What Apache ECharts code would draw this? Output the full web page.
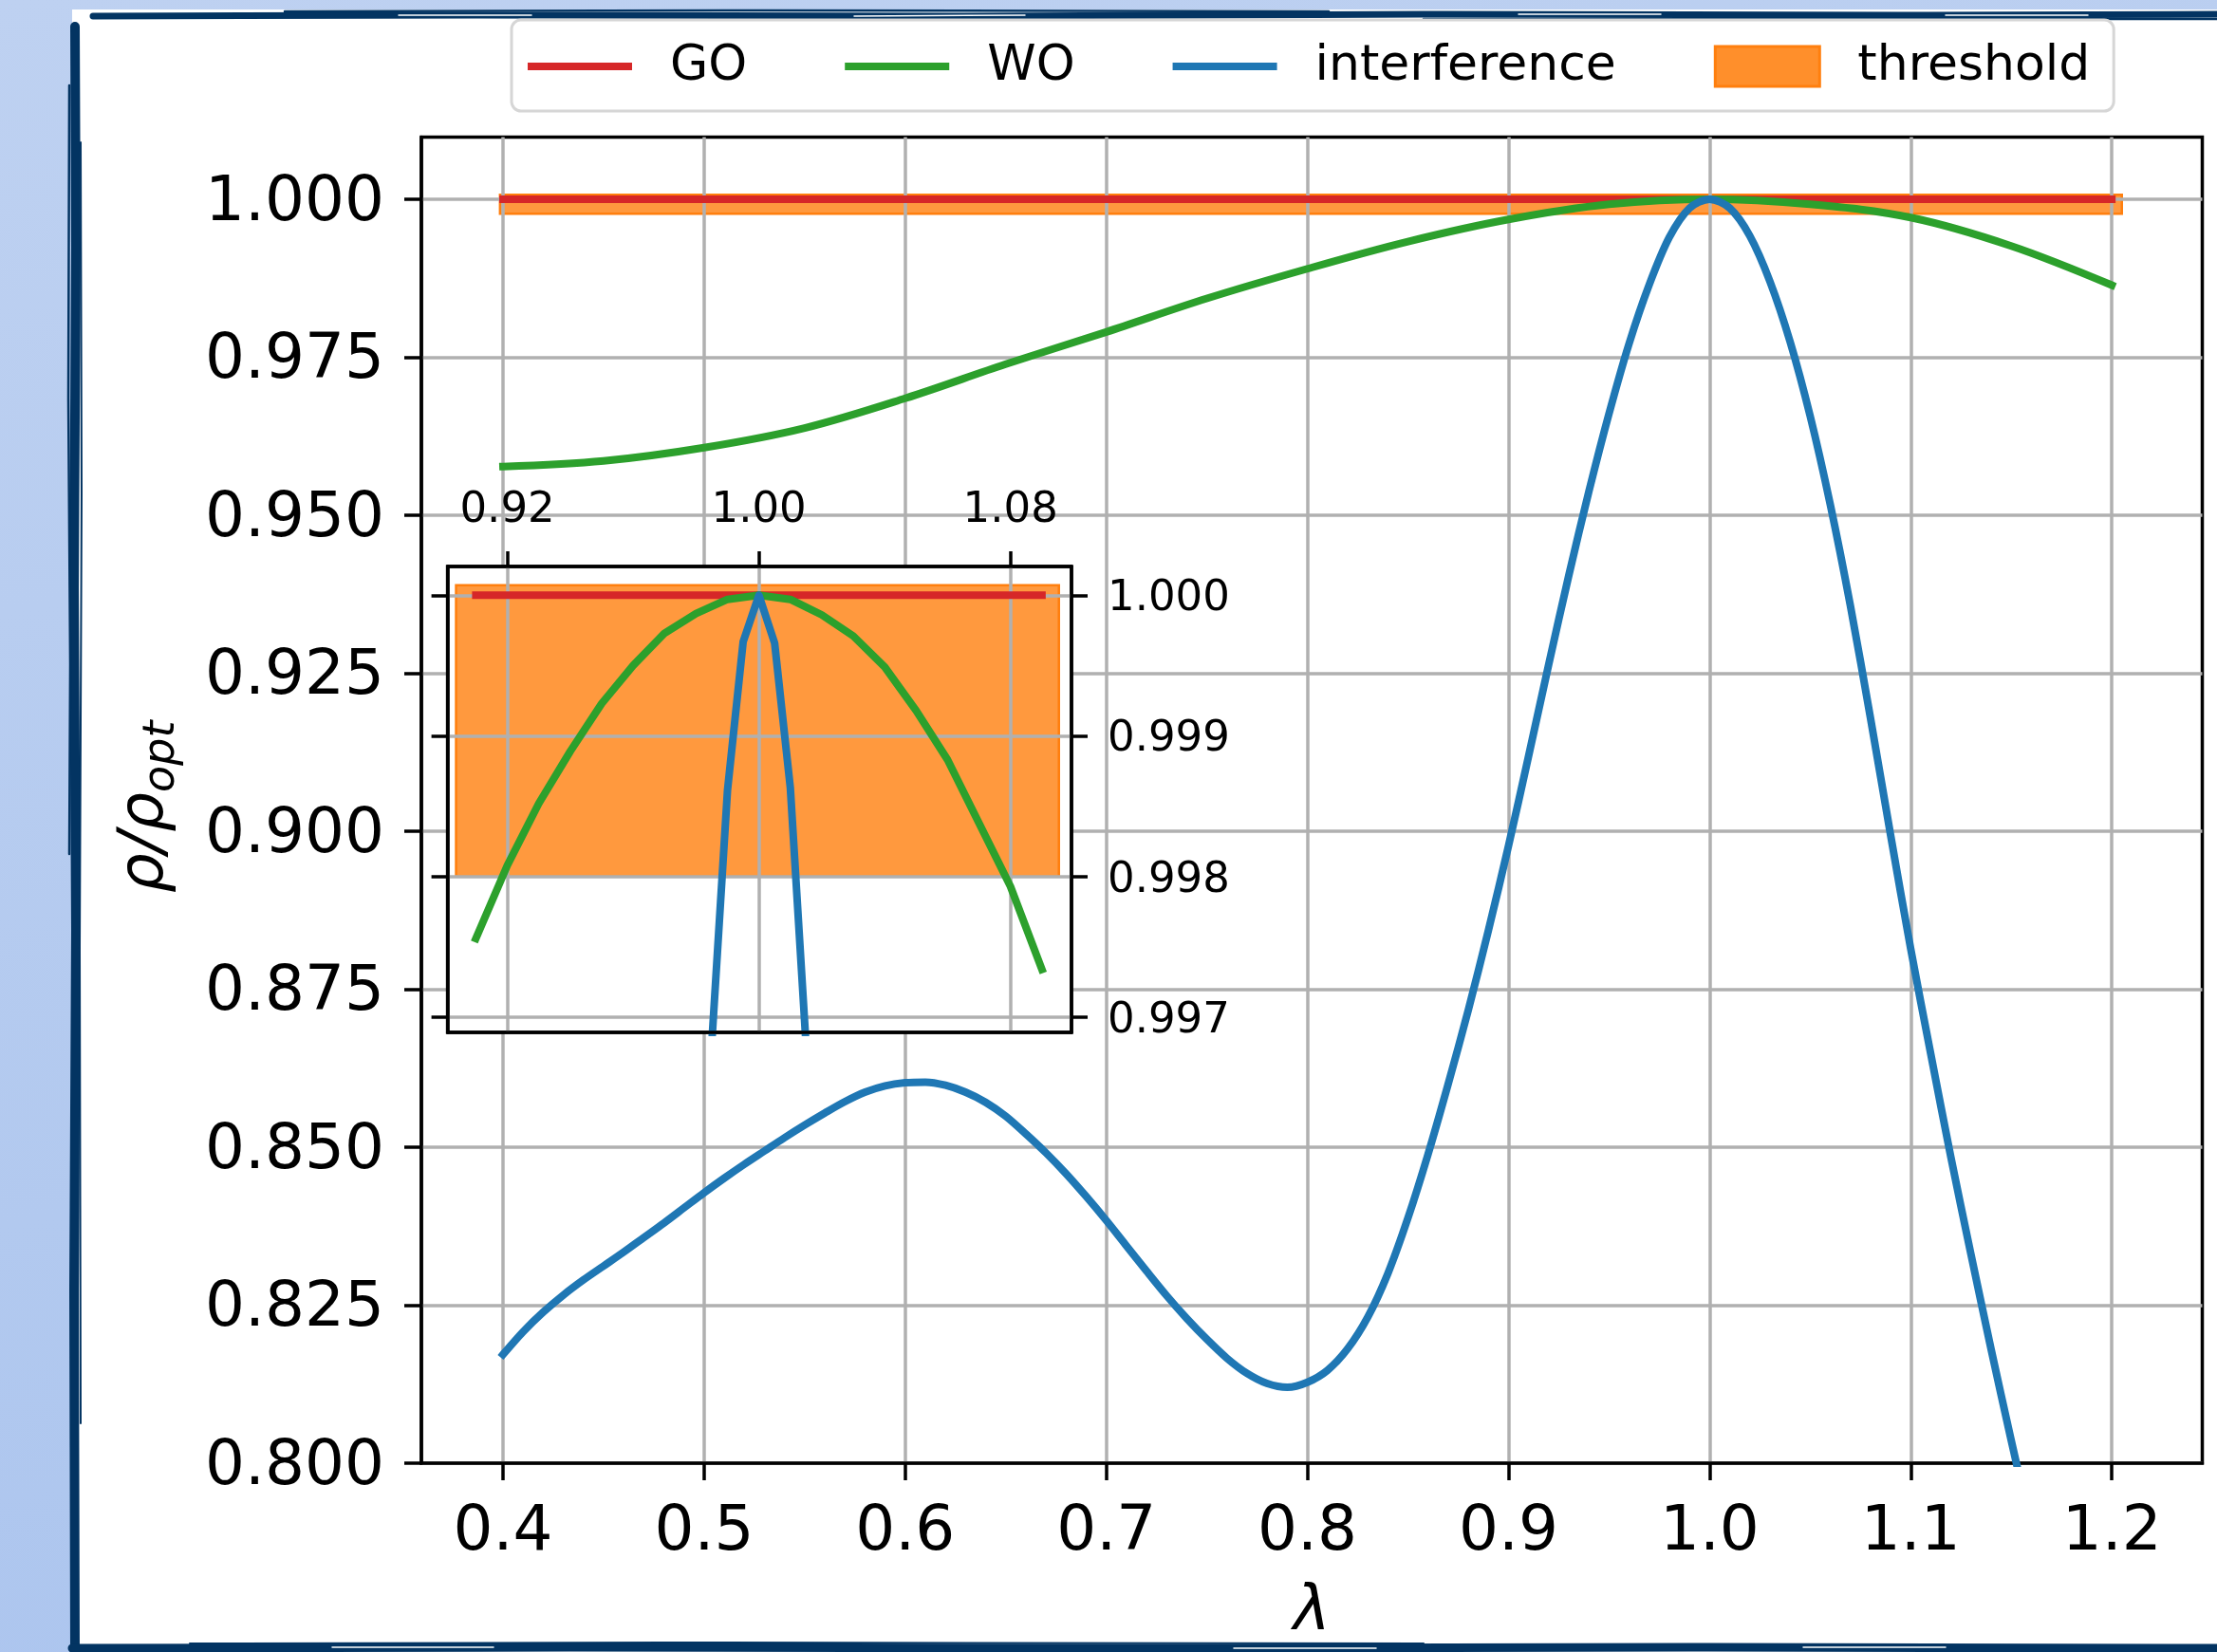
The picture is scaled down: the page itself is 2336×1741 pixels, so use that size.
<!DOCTYPE html>
<html><head><meta charset="utf-8">
<script src="https://cdn.jsdelivr.net/npm/echarts@6/dist/echarts.min.js"></script>
<style>
html,body{margin:0;padding:0;width:2336px;height:1741px;overflow:hidden;background:linear-gradient(170deg,#bed1f1 0%,#b2c9ef 60%,#a9c3ee 100%);}
#deco{position:absolute;left:0;top:0;}
#chart{position:absolute;left:0;top:0;width:2336px;height:1741px;}
</style></head><body>
<svg id="deco" width="2336" height="1741" xmlns="http://www.w3.org/2000/svg">
<rect x="76" y="10" width="2260" height="1731" fill="#ffffff"/>
<g fill="none" stroke="#033462" stroke-linecap="round">
<path d="M79,28 L80,260 L78,620 L80,980 L78,1360 L79,1741" stroke-width="10"/>
<path d="M73,90 L72,420 L74,700 L73,900" stroke-width="2.5"/>
<path d="M85,150 L86,520 L84,1000 L85,1500" stroke-width="2"/>
<path d="M98,17 L500,16 L1000,17 L1500,15 L2000,16 L2336,15" stroke-width="7"/>
<path d="M300,12 L800,11 L1400,12" stroke-width="2.5"/>
<path d="M1500,20 L2336,20" stroke-width="2.5"/>
<path d="M76,1737 L600,1736 L1200,1737 L1800,1736 L2336,1737" stroke-width="9"/>
<path d="M200,1732 L700,1731 L1500,1732" stroke-width="2"/>
</g>
<g fill="none" stroke="#ffffff" stroke-linecap="round" stroke-width="1.5">
<path d="M420,16 L560,16"/><path d="M900,17 L1080,16"/><path d="M1600,15 L1750,15"/><path d="M2050,16 L2200,16"/>
<path d="M350,1736 L520,1736"/><path d="M1300,1737 L1450,1737"/><path d="M1900,1736 L2050,1736"/>
</g>
</svg>
<div id="chart"></div>
<script>
// ---- data ----
const xTicksMain = [0.4, 0.5, 0.6, 0.7, 0.8, 0.9, 1.0, 1.1, 1.2];
const yTicksMain = [0.800, 0.825, 0.850, 0.875, 0.900, 0.925, 0.950, 0.975, 1.000];
const xTicksInset = [0.92, 1.00, 1.08];
const yTicksInset = [0.997, 0.998, 0.999, 1.000];

const goLambda = [0.40, 1.20];
const goRho = [1.000, 1.000];

const woLambda = [0.40,0.45,0.50,0.55,0.60,0.65,0.70,0.75,0.80,0.85,0.90,0.95,1.00,1.05,1.10,1.15,1.20];
const woRho = [0.9577,0.9586,0.9607,0.9638,0.9685,0.9739,0.9790,0.9843,0.9890,0.9933,0.9968,0.9992,1.0000,0.9992,0.9971,0.9926,0.9864];

const intLambda = [
  0.40,0.41,0.42,0.43,0.44,0.45,0.46,0.47,0.48,0.49,
  0.50,0.51,0.52,0.53,0.54,0.55,0.56,0.57,0.58,0.59,
  0.60,0.61,0.62,0.63,0.64,0.65,0.66,0.67,0.68,0.69,
  0.70,0.71,0.72,0.73,0.74,0.75,0.76,0.77,0.78,0.79,
  0.80,0.81,0.82,0.83,0.84,0.85,0.86,0.87,0.88,0.89,
  0.90,0.91,0.92,0.93,0.94,0.95,0.96,0.97,0.98,0.99,
  1.00,1.01,1.02,1.03,1.04,1.05,1.06,1.07,1.08,1.09,
  1.10,1.11,1.12,1.13,1.14,1.15,1.16];
const intRho = [
  0.8172,0.8208,0.8239,0.8266,0.8290,0.8312,0.8334,0.8357,0.8380,0.8404,
  0.8428,0.8451,0.8473,0.8494,0.8515,0.8535,0.8554,0.8572,0.8587,0.8597,
  0.8602,0.8603,0.8598,0.8587,0.8571,0.8549,0.8521,0.8491,0.8458,0.8422,
  0.8384,0.8344,0.8304,0.8265,0.8229,0.8196,0.8166,0.8142,0.8126,0.8120,
  0.8128,0.8147,0.8181,0.8231,0.8300,0.8388,0.8489,0.8600,0.8717,0.8843,
  0.8977,0.9119,0.9264,0.9405,0.9538,0.9661,0.9772,0.9865,0.9940,0.9986,
  1.0000,0.9986,0.9942,0.9870,0.9775,0.9657,0.9517,0.9357,0.9179,0.8994,
  0.8814,0.8647,0.8484,0.8330,0.8180,0.8036,0.7896];

const thrLambda = [0.3985, 1.2050];
const thrRho = [0.9977, 1.0007];

const insetLambda = [0.91,0.92,0.93,0.94,0.95,0.96,0.97,0.98,0.99,1.00,1.01,1.02,1.03,1.04,1.05,1.06,1.07,1.08,1.09];
const insetGoRho = [1,1,1,1,1,1,1,1,1,1,1,1,1,1,1,1,1,1,1];
const insetWoRho = [0.99756,0.99808,0.99852,0.99889,0.99923,0.99950,0.99973,0.99987,0.99997,1.00000,0.99997,0.99986,0.99971,0.99949,0.99918,0.99883,0.99838,0.99793,0.99734];
const insetIntLambda = [0.985, 0.990, 0.995, 1.000, 1.005, 1.010, 1.015];
const insetIntRho = [0.99681, 0.99861, 0.99967, 1.00000, 0.99966, 0.99863, 0.99680];
const insetThrLambda = [0.9037, 1.0954];
const insetThrRho = [0.99800, 1.00007];

// ---- helpers ----
const pairs = (xs, ys) => xs.map((x, i) => [x, ys[i]]);
const FONT = 'DejaVu Sans';
const RED = '#d62728', GREEN = '#2ca02c', BLUE = '#1f77b4', ORANGE = '#ff7f0e';
const ORANGE_FILL = 'rgba(255,127,14,0.8)';
const GRIDC = '#b0b0b0';
const LW = 8;

function rectItem(params, api) {
  const p0 = api.coord([api.value(0), api.value(3)]);
  const p1 = api.coord([api.value(1), api.value(2)]);
  return {
    type: 'rect',
    shape: { x: p0[0], y: p0[1], width: p1[0] - p0[0], height: p1[1] - p0[1] },
    style: { fill: ORANGE_FILL, stroke: ORANGE, lineWidth: 2.5 }
  };
}

const lineIcon = 'path://M0,0h0.001v0.001h-0.001z M0,17h110v8h-110z M0,41.999h0.001v0.001h-0.001z';

const chart = echarts.init(document.getElementById('chart'), null, { renderer: 'canvas' });

const axisLineBlack = { show: true, onZero: false, lineStyle: { color: '#000', width: 3.5 } };

const option = {
  animation: false,
  backgroundColor: 'transparent',
  textStyle: { fontFamily: FONT, color: '#000' },
  legend: {
    left: 539, top: 21,
    orient: 'horizontal',
    padding: [23, 25, 21, 17],
    itemWidth: 110, itemHeight: 42, itemGap: 103,
    backgroundColor: '#ffffff',
    borderColor: '#d6d6d6', borderWidth: 3, borderRadius: 10,
    z: 6,
    selectedMode: false,
    itemStyle: { borderWidth: 0 },
    textStyle: { fontFamily: FONT, fontSize: 52, color: '#000', padding: [0, 0, 0, 35] },
    data: [
      { name: 'GO', icon: lineIcon, itemStyle: { color: RED, borderWidth: 0 } },
      { name: 'WO', icon: lineIcon, itemStyle: { color: GREEN, borderWidth: 0 } },
      { name: 'interference', icon: lineIcon, itemStyle: { color: BLUE, borderWidth: 0 } },
      { name: 'threshold', icon: 'rect', itemStyle: { color: 'rgba(255,127,14,0.88)', borderColor: ORANGE, borderWidth: 3 } }
    ]
  },
  grid: [
    { left: 444, top: 144.5, width: 1876.5, height: 1397.5, show: true, borderColor: '#000', borderWidth: 3.5, backgroundColor: 'transparent', z: 0, outerBoundsMode: 'none', containLabel: false },
    { left: 471.6, top: 597, width: 657.4, height: 491, show: true, borderColor: '#000', borderWidth: 3.5, backgroundColor: '#ffffff', z: 3, outerBoundsMode: 'none', containLabel: false }
  ],
  xAxis: [
    {
      type: 'value', gridIndex: 0, position: 'bottom', min: 0.3594, max: 1.245, z: 1,
      axisLine: axisLineBlack,
      axisTick: { show: true, inside: false, length: 18, lineStyle: { color: '#000', width: 3.5 }, customValues: xTicksMain },
      axisLabel: { show: true, margin: 41, fontSize: 66, fontFamily: FONT, color: '#000', customValues: xTicksMain, formatter: v => v.toFixed(1) },
      splitLine: { show: true, lineStyle: { color: GRIDC, width: 3.5 }, customValues: xTicksMain },
      name: 'λ', nameLocation: 'middle', nameGap: 125,
      nameTextStyle: { fontSize: 66, fontStyle: 'italic', fontFamily: FONT, color: '#000' }
    },
    {
      type: 'value', gridIndex: 1, position: 'top', min: 0.901, max: 1.0994, z: 4,
      axisLine: axisLineBlack,
      axisTick: { show: true, inside: false, length: 16, lineStyle: { color: '#000', width: 3.5 }, customValues: xTicksInset },
      axisLabel: { show: true, margin: 36, fontSize: 45, fontFamily: FONT, color: '#000', customValues: xTicksInset, formatter: v => v.toFixed(2) },
      splitLine: { show: true, lineStyle: { color: GRIDC, width: 3.5 }, customValues: xTicksInset }
    },
    {
      type: 'value', gridIndex: 1, position: 'bottom', min: 0.901, max: 1.0994, z: 6,
      axisLine: axisLineBlack,
      axisTick: { show: false }, axisLabel: { show: false }, splitLine: { show: false }
    }
  ],
  yAxis: [
    {
      type: 'value', gridIndex: 0, position: 'left', min: 0.8, max: 1.00983, z: 1,
      axisLine: axisLineBlack,
      axisTick: { show: true, inside: false, length: 18, lineStyle: { color: '#000', width: 3.5 }, customValues: yTicksMain },
      axisLabel: { show: true, margin: 39, fontSize: 66, fontFamily: FONT, color: '#000', verticalAlign: 'top', lineHeight: 9, customValues: yTicksMain, formatter: v => v.toFixed(3) },
      splitLine: { show: true, lineStyle: { color: GRIDC, width: 3.5 }, customValues: yTicksMain },
      name: '{a|ρ/ρ}{b|opt}', nameLocation: 'middle', nameGap: 250, nameRotate: 90,
      nameTextStyle: {
        padding: [0, 14, 0, 0],
        rich: {
          a: { fontSize: 66, fontStyle: 'italic', fontFamily: FONT, color: '#000', lineHeight: 80, verticalAlign: 'middle' },
          b: { fontSize: 46, fontStyle: 'italic', fontFamily: FONT, color: '#000', lineHeight: 46, verticalAlign: 'bottom' }
        }
      }
    },
    {
      type: 'value', gridIndex: 1, position: 'right', min: 0.996893, max: 1.000204, z: 4,
      axisLine: axisLineBlack,
      axisTick: { show: true, inside: false, length: 17, lineStyle: { color: '#000', width: 3.5 }, customValues: yTicksInset },
      axisLabel: { show: true, margin: 38, fontSize: 45, fontFamily: FONT, color: '#000', verticalAlign: 'top', lineHeight: 8, customValues: yTicksInset, formatter: v => v.toFixed(3) },
      splitLine: { show: true, lineStyle: { color: GRIDC, width: 3.5 }, customValues: yTicksInset }
    },
    {
      type: 'value', gridIndex: 1, position: 'left', min: 0.996893, max: 1.000204, z: 4,
      axisLine: axisLineBlack,
      axisTick: { show: true, inside: false, length: 17, lineStyle: { color: '#000', width: 3.5 }, customValues: yTicksInset },
      axisLabel: { show: false },
      splitLine: { show: false }
    }
  ],
  series: [
    {
      name: 'threshold', type: 'custom', xAxisIndex: 0, yAxisIndex: 0, z: 0.5,
      itemStyle: { color: ORANGE },
      renderItem: rectItem,
      encode: { x: [0, 1], y: [2, 3] },
      data: [[thrLambda[0], thrLambda[1], thrRho[0], thrRho[1]]]
    },
    {
      name: 'GO', type: 'line', xAxisIndex: 0, yAxisIndex: 0, z: 2, symbol: 'none',
      itemStyle: { color: RED }, lineStyle: { color: RED, width: LW, cap: 'square' },
      data: pairs(goLambda, goRho)
    },
    {
      name: 'WO', type: 'line', xAxisIndex: 0, yAxisIndex: 0, z: 2, symbol: 'none', smooth: 0.35,
      itemStyle: { color: GREEN }, lineStyle: { color: GREEN, width: LW, cap: 'square', join: 'round' },
      data: pairs(woLambda, woRho)
    },
    {
      name: 'interference', type: 'line', xAxisIndex: 0, yAxisIndex: 0, z: 2, symbol: 'none', smooth: 0.3, clip: true,
      itemStyle: { color: BLUE }, lineStyle: { color: BLUE, width: LW, cap: 'square', join: 'round' },
      data: pairs(intLambda, intRho)
    },
    {
      name: 'threshold', type: 'custom', xAxisIndex: 1, yAxisIndex: 1, z: 3.5,
      itemStyle: { color: ORANGE },
      renderItem: rectItem,
      encode: { x: [0, 1], y: [2, 3] },
      data: [[insetThrLambda[0], insetThrLambda[1], insetThrRho[0], insetThrRho[1]]]
    },
    {
      name: 'GO', type: 'line', xAxisIndex: 1, yAxisIndex: 1, z: 5, symbol: 'none',
      itemStyle: { color: RED }, lineStyle: { color: RED, width: LW, cap: 'square' },
      data: pairs(insetLambda, insetGoRho)
    },
    {
      name: 'WO', type: 'line', xAxisIndex: 1, yAxisIndex: 1, z: 5, symbol: 'none',
      itemStyle: { color: GREEN }, lineStyle: { color: GREEN, width: LW, cap: 'square', join: 'round' },
      data: pairs(insetLambda, insetWoRho)
    },
    {
      name: 'interference', type: 'line', xAxisIndex: 1, yAxisIndex: 1, z: 5, symbol: 'none', clip: true,
      itemStyle: { color: BLUE }, lineStyle: { color: BLUE, width: LW, cap: 'square', join: 'round' },
      data: pairs(insetIntLambda, insetIntRho)
    }
  ]
};
chart.setOption(option);
</script>
</body></html>
